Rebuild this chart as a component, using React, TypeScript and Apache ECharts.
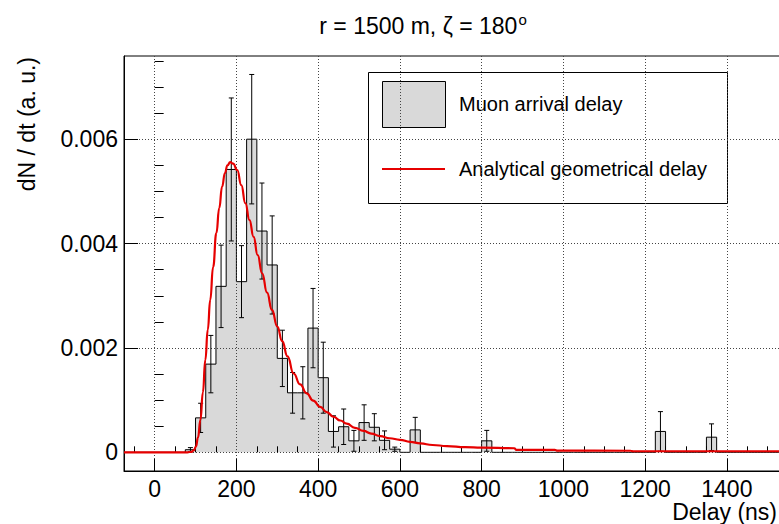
import React, { useEffect, useRef } from "react";
import * as echarts from "echarts";

// ---- data ----
const binWidth = 25;
const histMin = -75;
const histMax = 1530;
const binLow = [75, 100, 125, 150, 175, 200, 225, 250, 275, 300, 325, 350, 375, 400, 425, 450, 475, 500, 525, 550, 575, 625, 800, 1225, 1350];
const binValue = [0.00005, 0.00066, 0.00169, 0.00318, 0.00542, 0.00327, 0.006, 0.00424, 0.00359, 0.0018, 0.00114, 0.00114, 0.00238, 0.00143, 0.0004, 0.00049, 0.00022, 0.00057, 0.00048, 0.00023, 0.00006, 0.00043, 0.00022, 0.0004, 0.00029];
const binError = [0.00004, 0.00028, 0.00055, 0.00079, 0.00137, 0.00069, 0.00124, 0.00092, 0.00094, 0.00054, 0.00039, 0.0005, 0.00076, 0.00068, 0.0003, 0.00034, 0.0002, 0.00034, 0.00026, 0.00018, 0.00004, 0.00024, 0.0002, 0.00038, 0.000255];

const curveX = [-75, 80, 90, 96, 101, 106, 112, 118, 124, 130, 136, 143, 151, 158, 165, 172, 178, 185, 192, 202, 212, 222, 232, 242, 252, 263, 275, 287, 300, 312, 325, 340, 356, 372, 388, 405, 421, 438, 454, 470, 490, 511, 530, 552, 575, 600, 625, 650, 680, 715, 760, 800, 880, 885, 980, 985, 1165, 1170, 1530];
const curveY = [0, 0, 0.00001, 0.00004, 0.00011, 0.00028, 0.00062, 0.00115, 0.00177, 0.00235, 0.00292, 0.00355, 0.0042, 0.00468, 0.00509, 0.00535, 0.0055, 0.00556, 0.00553, 0.00541, 0.00512, 0.00477, 0.00445, 0.00413, 0.00378, 0.00343, 0.00306, 0.00273, 0.00241, 0.00213, 0.00184, 0.00151, 0.0013, 0.00113, 0.00099, 0.00087, 0.00077, 0.00068, 0.00061, 0.00055, 0.00047, 0.00041, 0.00036, 0.00031, 0.00027, 0.00024, 0.0002, 0.00017, 0.00014, 0.00012, 0.0001, 0.00009, 0.000078, 0.000048, 0.000045, 0.000032, 0.00003, 0.00002, 0.00002];

const xMajor = [0, 200, 400, 600, 800, 1000, 1200, 1400];
const yMajor = [0, 0.002, 0.004, 0.006];
const yMin = -0.000358;
const yMax = 0.007594;

const titleMain = "r = 1500 m, ζ = 180";
const titleSup = "o";
const xTitle = "Delay (ns)";
const yTitle = "dN / dt (a. u.)";
const legendHist = "Muon arrival delay";
const legendCurve = "Analytical geometrical delay";

const FONT = "Liberation Sans, Arial, Helvetica, sans-serif";
const RED = "#e60000";
const FILL = "#d9d9d9";

function buildOutline(): number[][] {
  const pts: number[][] = [];
  for (let e = histMin; e < histMax; e += binWidth) {
    const idx = binLow.indexOf(e);
    const v = idx >= 0 ? binValue[idx] : 0;
    pts.push([e, v], [Math.min(e + binWidth, histMax), v]);
  }
  return pts;
}

function minorTicks(lo: number, hi: number, step: number, skip: number[]): number[] {
  const out: number[] = [];
  for (let k = Math.ceil(lo / step); k * step <= hi + 1e-12; k++) {
    const v = +(k * step).toFixed(6);
    if (!skip.some((s) => Math.abs(s - v) < 1e-9)) out.push(v);
  }
  return out;
}

export default function App() {
  const ref = useRef<HTMLDivElement>(null);
  useEffect(() => {
    if (!ref.current) return;
    const chart = echarts.init(ref.current, undefined, { renderer: "svg" });
    const xMinor = minorTicks(histMin, 1525, 50, xMajor);
    const yMinor = minorTicks(0, yMax, 0.0005, yMajor);
    const outline = buildOutline();
    const errData = binLow.map((l, i) => [l + binWidth / 2, binValue[i], binError[i]]);
    const curve = curveX.map((x, i) => [x, curveY[i]]);

    const axisCommon = {
      type: "value" as const,
      z: 3,
    };

    chart.setOption({
      animation: false,
      textStyle: { fontFamily: FONT },
      grid: {
        left: 124,
        top: 56,
        width: 656,
        height: 415,
        show: true,
        borderColor: "#000",
        borderWidth: 1,
        backgroundColor: "transparent",
        outerBoundsMode: "none",
        containLabel: false,
      },
      xAxis: [
        {
          ...axisCommon,
          min: histMin,
          max: histMax,
          position: "bottom",
          axisLine: { show: true, onZero: false, lineStyle: { color: "#000", width: 1 } },
          axisTick: { show: true, inside: true, length: 12, customValues: xMajor, lineStyle: { color: "#000" } },
          axisLabel: {
            show: true,
            customValues: xMajor,
            fontSize: 23,
            color: "#000",
            fontFamily: FONT,
            margin: 6,
            formatter: (v: number) => String(v),
          },
          splitLine: { show: true, lineStyle: { type: [1, 2], color: "#444", width: 1 } },
          minorTick: { show: false },
        },
        {
          ...axisCommon,
          min: histMin,
          max: histMax,
          position: "bottom",
          axisLine: { show: false },
          axisTick: { show: true, inside: true, length: 6, customValues: xMinor, lineStyle: { color: "#000" } },
          axisLabel: { show: false },
          splitLine: { show: false },
        },
      ],
      yAxis: [
        {
          ...axisCommon,
          min: yMin,
          max: yMax,
          position: "left",
          axisLine: { show: true, onZero: false, lineStyle: { color: "#000", width: 1 } },
          axisTick: { show: true, inside: true, length: 14, customValues: yMajor, lineStyle: { color: "#000" } },
          axisLabel: {
            show: true,
            customValues: yMajor,
            fontSize: 23,
            color: "#000",
            fontFamily: FONT,
            margin: 6,
            formatter: (v: number) => (v === 0 ? "0" : v.toFixed(3)),
          },
          splitLine: { show: true, lineStyle: { type: [1, 2], color: "#444", width: 1 } },
        },
        {
          ...axisCommon,
          min: yMin,
          max: yMax,
          position: "left",
          axisLine: { show: false },
          axisTick: { show: true, inside: true, length: 9, customValues: yMinor, lineStyle: { color: "#000" } },
          axisLabel: { show: false },
          splitLine: { show: false },
        },
      ],
      series: [
        {
          name: legendHist,
          type: "line",
          data: outline,
          xAxisIndex: 0,
          yAxisIndex: 0,
          symbol: "none",
          showSymbol: false,
          lineStyle: { color: "#000", width: 1 },
          areaStyle: { color: FILL, opacity: 1 },
          z: 1,
          silent: true,
        },
        {
          name: "errors",
          type: "custom",
          xAxisIndex: 0,
          yAxisIndex: 0,
          data: errData,
          z: 4,
          silent: true,
          renderItem: (params: any, api: any) => {
            const x = api.value(0);
            const v = api.value(1);
            const e = api.value(2);
            const top = api.coord([x, v + e]);
            const bot = api.coord([x, Math.max(v - e, 0)]);
            const cap = 2.5;
            const st = { stroke: "#000", lineWidth: 1 };
            return {
              type: "group",
              children: [
                { type: "line", shape: { x1: top[0], y1: top[1], x2: bot[0], y2: bot[1] }, style: st },
                { type: "line", shape: { x1: top[0] - cap, y1: top[1], x2: top[0] + cap, y2: top[1] }, style: st },
                { type: "line", shape: { x1: bot[0] - cap, y1: bot[1], x2: bot[0] + cap, y2: bot[1] }, style: st },
              ],
            };
          },
        },
        {
          name: legendCurve,
          type: "line",
          data: curve,
          xAxisIndex: 0,
          yAxisIndex: 0,
          symbol: "none",
          showSymbol: false,
          smooth: true,
          smoothMonotone: "x",
          lineStyle: { color: RED, width: 2.2 },
          z: 5,
          silent: true,
        },
      ],
      graphic: [
        {
          type: "text",
          x: 423,
          y: 26,
          z: 10,
          style: {
            text: `{a|${titleMain}}{b|${titleSup}}`,
            align: "center",
            verticalAlign: "middle",
            fill: "#000",
            rich: {
              a: { fontSize: 23, fontFamily: FONT, fill: "#000", lineHeight: 28 },
              b: { fontSize: 15, fontFamily: FONT, fill: "#000", verticalAlign: "top", lineHeight: 28, padding: [0, 0, 8, 1] },
            },
          },
        },
        {
          type: "text",
          x: 27,
          y: 57,
          rotation: Math.PI / 2,
          z: 10,
          style: { text: yTitle, fontSize: 23, fontFamily: FONT, fill: "#000", align: "right", verticalAlign: "middle" },
        },
        {
          type: "text",
          x: 777,
          y: 512,
          z: 10,
          style: { text: xTitle, fontSize: 23, fontFamily: FONT, fill: "#000", align: "right", verticalAlign: "middle" },
        },
        {
          type: "group",
          z: 10,
          children: [
            { type: "rect", shape: { x: 368.5, y: 72.5, width: 359, height: 131 }, style: { fill: "#fff", stroke: "#000", lineWidth: 1 } },
            { type: "rect", shape: { x: 382.5, y: 81.5, width: 63, height: 46 }, style: { fill: FILL, stroke: "#000", lineWidth: 1 } },
            { type: "text", x: 459, y: 104, style: { text: legendHist, fontSize: 20, fontFamily: FONT, fill: "#000", verticalAlign: "middle" } },
            { type: "line", shape: { x1: 382, y1: 169, x2: 445, y2: 169 }, style: { stroke: RED, lineWidth: 2 } },
            { type: "text", x: 459, y: 169, style: { text: legendCurve, fontSize: 20, fontFamily: FONT, fill: "#000", verticalAlign: "middle" } },
          ],
        },
      ],
    });
    return () => chart.dispose();
  }, []);
  return <div ref={ref} style={{ position: "fixed", left: 0, top: 0, width: 779, height: 524, background: "#fff" }} />;
}
